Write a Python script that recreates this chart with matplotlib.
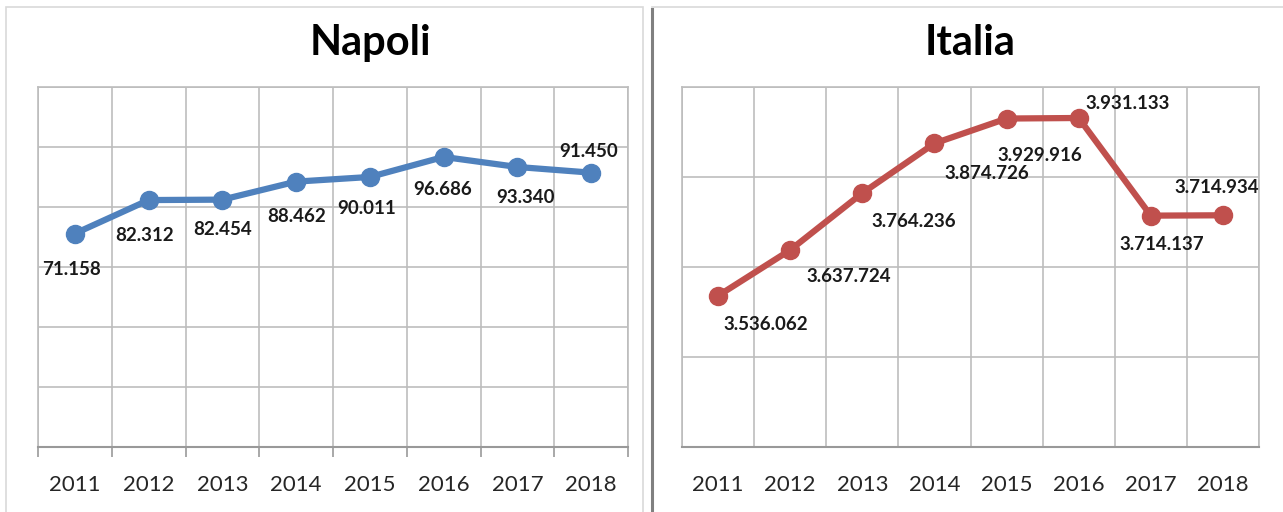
import matplotlib.pyplot as plt
from matplotlib.lines import Line2D
from matplotlib.patches import Rectangle

plt.rcParams['font.family'] = ['Lato', 'DejaVu Sans']

anni = ['2011', '2012', '2013', '2014', '2015', '2016', '2017', '2018']
napoli = [71158, 82312, 82454, 88462, 90011, 96686, 93340, 91450]
italia = [3536062, 3637724, 3764236, 3874726, 3929916, 3931133, 3714137, 3714934]

# label offsets in pixels (dx right, dy down), as placed in the original
off_napoli = [(-3, 36), (-4, 35), (0, 30), (0, 35), (-3, 32), (-1, 33), (8, 31), (-3, -21)]
off_italia = [(48, 29), (59, 26), (51, 28), (52, 30), (33, 37), (49, -14), (11, 29), (-6, -28)]

W, H = 1283, 512
fig = plt.figure(figsize=(W / 100, H / 100), dpi=100)

# panel frames
fig.add_artist(Rectangle((6 / W, -0.01), 637 / W, (H - 7) / H + 0.01, transform=fig.transFigure,
                         fill=False, edgecolor='#d9d9d9', lw=1.2))
fig.add_artist(Line2D([652 / W, 1.0], [1 - 7 / H, 1 - 7 / H], transform=fig.transFigure,
                      color='#d9d9d9', lw=1.2))
fig.add_artist(Line2D([652 / W, 652 / W], [0, 1 - 9 / H], transform=fig.transFigure,
                      color='#808080', lw=2.2))


def fmt(v):
    return f'{v:,}'.replace(',', '.')


def pannello(rect, valori, ylim, ystep, colore, offs, ticks_out):
    ax = fig.add_axes(rect)
    x = list(range(len(anni)))
    ax.plot(x, valori, color=colore, lw=4.5, marker='o', ms=13, solid_capstyle='round', zorder=3)
    ax.set_xlim(-0.5, len(anni) - 0.5)
    ax.set_ylim(*ylim)
    yt = []
    v = ylim[0]
    while v <= ylim[1] + 1:
        yt.append(v)
        v += ystep
    ax.set_yticks(yt)
    ax.set_yticklabels([])
    ax.tick_params(axis='y', length=0)
    ax.set_xticks(x)
    ax.set_xticklabels(anni, fontsize=16, color='#262626')
    ax.set_xticks([i - 0.5 for i in range(len(anni) + 1)], minor=True)
    ax.tick_params(axis='x', which='major', length=0, pad=20)
    if ticks_out:
        ax.tick_params(axis='x', which='minor', length=7, color='#999999', width=1.2)
    else:
        ax.tick_params(axis='x', which='minor', length=0)
    ax.grid(True, which='minor', axis='x', color='#bdbdbd', lw=1.2)
    ax.grid(True, which='major', axis='y', color='#bdbdbd', lw=1.2)
    for s in ['top', 'left', 'right']:
        ax.spines[s].set_color('#bdbdbd')
        ax.spines[s].set_linewidth(1.2)
    ax.spines['bottom'].set_color('#999999')
    ax.spines['bottom'].set_linewidth(1.5)
    for xi, val, (dx, dy) in zip(x, valori, offs):
        ax.annotate(fmt(val), (xi, val), xytext=(dx * 0.72, -dy * 0.72), textcoords='offset points',
                    ha='center', va='center', fontsize=13.5, fontweight='bold', color='#1a1a1a', zorder=4)
    return ax


pannello([38 / W, 65 / H, 590 / W, 360 / H], napoli, (0, 120000), 20000, '#4f81bd', off_napoli, True)
pannello([682 / W, 65 / H, 577 / W, 360 / H], italia, (3200000, 4000000), 200000, '#c0504d', off_italia, False)

fig.text(370 / W, 1 - 43 / H, 'Napoli', ha='center', va='center', fontsize=30, fontweight='bold')
fig.text(970 / W, 1 - 43 / H, 'Italia', ha='center', va='center', fontsize=30, fontweight='bold')

fig.savefig('out.png', dpi=100)
